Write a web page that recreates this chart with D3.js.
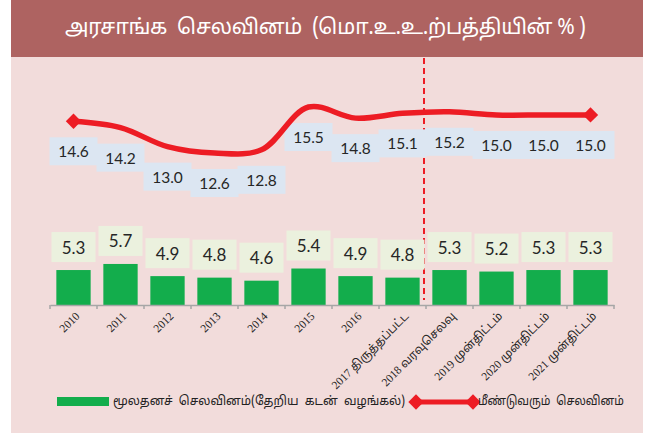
<!DOCTYPE html>
<html>
<head>
<meta charset="utf-8">
<script src="https://cdn.jsdelivr.net/npm/d3@7"></script>
<style>
  body { margin: 0; background: #fff; }
</style>
</head>
<body>
<div id="chart"></div>
<script>
// chart data
const years = ["2010", "2011", "2012", "2013", "2014", "2015", "2016",
  "2017 திருத்தப்பட்ட", "2018 வரவுசெலவு", "2019 முன்திட்டம்", "2020 முன்திட்டம்", "2021 முன்திட்டம்"];
const capital = [5.3, 5.7, 4.9, 4.8, 4.6, 5.4, 4.9, 4.8, 5.3, 5.2, 5.3, 5.3];
const recurrent = [14.6, 14.2, 13.0, 12.6, 12.8, 15.5, 14.8, 15.1, 15.2, 15.0, 15.0, 15.0];
const title = "அரசாங்க  செலவினம்  (மொ.உ.உ.ற்பத்தியின் % )";
const legendBar = "மூலதனச்  செலவினம்(தேறிய  கடன்  வழங்கல்)";
const legendLine = "மீண்டுவரும்  செலவினம்";

const width = 659, height = 434;
const red = "#ED1C24", green = "#13AD4C";
const tamil = "'Noto Sans Tamil', 'Latha', 'Lohit Tamil', 'Noto Sans', sans-serif";

const svg = d3.select("#chart").append("svg")
  .attr("width", width)
  .attr("height", height);

// background panels
svg.append("rect").attr("x", 11).attr("y", 0).attr("width", 632).attr("height", 433).attr("fill", "#F2DCDB");
svg.append("rect").attr("x", 11).attr("y", 0).attr("width", 632).attr("height", 57).attr("fill", "#AE6361");

svg.append("text")
  .attr("x", 65).attr("y", 29)
  .attr("dominant-baseline", "central")
  .attr("fill", "#fff")
  .attr("textLength", 521).attr("lengthAdjust", "spacing")
  .style("font-family", tamil)
  .style("font-size", "21px")
  .style("white-space", "pre")
  .text(title);

// scales
const x = d3.scaleBand().domain(years).range([50, 614]).paddingInner(0.27).paddingOuter(0.135);
const y = d3.scaleLinear().domain([3, 8]).range([305, 229]);
const y2 = d3.scaleLinear().domain([12, 16]).range([162.5, 99.1]);
const cx = d => x(d) + x.bandwidth() / 2;

// bars
svg.selectAll("rect.bar").data(years).enter().append("rect")
  .attr("class", "bar")
  .attr("x", d => x(d))
  .attr("width", x.bandwidth())
  .attr("y", (d, i) => y(capital[i]))
  .attr("height", (d, i) => y(3) - y(capital[i]))
  .attr("fill", green);

// x axis
const xAxis = svg.append("g")
  .attr("transform", "translate(0,305)")
  .call(d3.axisBottom(x).tickSize(0).tickFormat(""));
xAxis.select(".domain").attr("stroke", "#A6A6A6").attr("stroke-width", 1.5);
svg.append("g").selectAll("line").data(d3.range(years.length + 1)).enter().append("line")
  .attr("x1", i => 50 + i * x.step()).attr("x2", i => 50 + i * x.step())
  .attr("y1", 305).attr("y2", 309)
  .attr("stroke", "#A6A6A6").attr("stroke-width", 1.5);

svg.append("g").selectAll("text").data(years).enter().append("text")
  .attr("transform", d => `translate(${cx(d) + 4},${314}) rotate(-45)`)
  .attr("text-anchor", "end")
  .attr("dominant-baseline", "central")
  .style("font-family", "'Liberation Serif', " + tamil)
  .style("font-size", "11.5px")
  .attr("fill", "#222")
  .text(d => d);

// divider between actuals and projections
svg.append("line")
  .attr("x1", 424).attr("x2", 424).attr("y1", 58).attr("y2", 300)
  .attr("stroke", red).attr("stroke-width", 2).attr("stroke-dasharray", "6,4");

// bar labels
const barLab = svg.append("g").selectAll("g").data(years).enter().append("g");
barLab.append("rect")
  .attr("x", d => cx(d) - 22).attr("width", 44)
  .attr("y", (d, i) => y(capital[i]) - 38).attr("height", 30)
  .attr("fill", "#EBF1DE");
barLab.append("text")
  .attr("x", d => cx(d)).attr("y", (d, i) => y(capital[i]) - 23)
  .attr("text-anchor", "middle").attr("dominant-baseline", "central")
  .style("font-family", "Lato, sans-serif").style("font-size", "17px")
  .attr("fill", "#262626")
  .text((d, i) => capital[i].toFixed(1));

// line labels
const lineLab = svg.append("g").selectAll("g").data(years).enter().append("g");
lineLab.append("rect")
  .attr("x", d => cx(d) - 24).attr("width", 48)
  .attr("y", (d, i) => y2(recurrent[i]) + 16).attr("height", 28)
  .attr("fill", "#DCE6F2");
lineLab.append("text")
  .attr("x", d => cx(d)).attr("y", (d, i) => y2(recurrent[i]) + 30)
  .attr("text-anchor", "middle").attr("dominant-baseline", "central")
  .style("font-family", "Lato, sans-serif").style("font-size", "15.5px")
  .attr("fill", "#262626")
  .text((d, i) => recurrent[i].toFixed(1));

// recurrent expenditure line
const line = d3.line()
  .x(d => cx(d))
  .y((d, i) => y2(recurrent[i]))
  .curve(d3.curveCatmullRom.alpha(0.5));
svg.append("path").datum(years)
  .attr("fill", "none").attr("stroke", red).attr("stroke-width", 5.5)
  .attr("d", line);

const diamond = d3.symbol().type(d3.symbolDiamond2).size(150);
[0, years.length - 1].forEach(i => {
  svg.append("path").attr("d", diamond)
    .attr("transform", `translate(${cx(years[i])},${y2(recurrent[i])})`)
    .attr("fill", red);
});

// legend
svg.append("rect").attr("x", 57).attr("y", 397).attr("width", 52).attr("height", 9).attr("fill", green);
svg.append("text").attr("x", 113).attr("y", 402)
  .attr("dominant-baseline", "central")
  .attr("textLength", 292).attr("lengthAdjust", "spacingAndGlyphs")
  .style("font-family", tamil).style("font-size", "12.5px").style("white-space", "pre")
  .attr("fill", "#222").text(legendBar);
svg.append("line").attr("x1", 416).attr("x2", 473).attr("y1", 402).attr("y2", 402)
  .attr("stroke", red).attr("stroke-width", 5);
[416, 473].forEach(px => {
  svg.append("path").attr("d", diamond).attr("transform", `translate(${px},402)`).attr("fill", red);
});
svg.append("text").attr("x", 478).attr("y", 402)
  .attr("dominant-baseline", "central")
  .attr("textLength", 146).attr("lengthAdjust", "spacingAndGlyphs")
  .style("font-family", tamil).style("font-size", "12.5px").style("white-space", "pre")
  .attr("fill", "#222").text(legendLine);
</script>
</body>
</html>
